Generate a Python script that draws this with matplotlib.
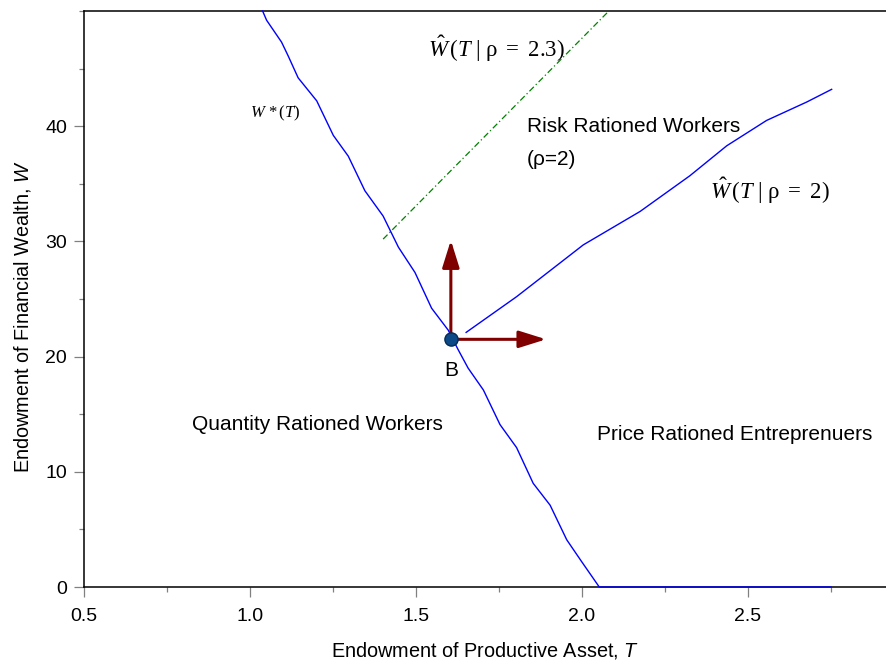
import matplotlib
matplotlib.use("Agg")
import matplotlib.pyplot as plt
from matplotlib.ticker import MultipleLocator, FormatStrFormatter
from matplotlib.patches import FancyArrowPatch

plt.rcParams['font.family'] = ['Liberation Sans', 'DejaVu Sans']
plt.rcParams['mathtext.fontset'] = 'custom'
plt.rcParams['mathtext.rm'] = 'Liberation Serif'
plt.rcParams['mathtext.it'] = 'Liberation Serif:italic'
plt.rcParams['mathtext.sf'] = 'Liberation Sans:italic'

# ---- data ----
wstar_T = [1.038, 1.050, 1.095, 1.115, 1.145, 1.201, 1.251, 1.296, 1.346, 1.401,
           1.447, 1.497, 1.547, 1.597, 1.627, 1.657, 1.703, 1.753, 1.803, 1.853,
           1.904, 1.954, 1.999, 2.052, 2.75]
wstar_W = [50.0, 49.2, 47.3, 46.1, 44.2, 42.2, 39.2, 37.4, 34.4, 32.2,
           29.5, 27.3, 24.2, 22.3, 20.6, 19.0, 17.1, 14.1, 12.1, 9.0,
           7.1, 4.1, 2.2, 0.0, 0.0]

what2_T = [1.651, 1.803, 2.004, 2.175, 2.325, 2.436, 2.556, 2.677, 2.752]
what2_W = [22.1, 25.2, 29.7, 32.6, 35.7, 38.3, 40.5, 42.1, 43.2]

what23_T = [1.401, 2.081]
what23_W = [30.2, 50.0]

point_B = (1.605, 21.5)
arrow_up_tip = (1.605, 30.1)
arrow_right_tip = (1.892, 21.5)

xticks = [0.5, 1.0, 1.5, 2.0, 2.5]
yticks = [0, 10, 20, 30, 40]

fig = plt.figure(figsize=(8.86, 6.69), dpi=100)
ax = fig.add_axes([84/886, 82/669, 802/886, 576/669])
ax.set_xlim(0.5, 2.9157)
ax.set_ylim(0, 50)

ax.plot(wstar_T, wstar_W, color='#0000ff', lw=1.0, clip_on=False, zorder=5)
ax.plot(what2_T, what2_W, color='#0000ff', lw=1.0, zorder=5)
ax.plot(what23_T, what23_W, color='#008000', lw=0.9, dashes=(5, 2.2, 1, 2.2), zorder=4)

for tip in (arrow_up_tip, arrow_right_tip):
    arr = FancyArrowPatch(point_B, tip,
                          arrowstyle='-|>,head_length=1.66,head_width=0.52',
                          mutation_scale=10, color='#800000', lw=2.2,
                          shrinkA=0, shrinkB=0, zorder=6)
    ax.add_patch(arr)

ax.plot([point_B[0]], [point_B[1]], 'o', ms=9.5, mfc='#0b4a86', mec='#052b55',
        mew=1.0, zorder=7)

# spines & ticks
ax.spines['right'].set_visible(False)
for s in ('left', 'bottom', 'top'):
    ax.spines[s].set_linewidth(1.1)
    ax.spines[s].set_color('black')

ax.set_xticks(xticks)
ax.set_yticks(yticks)
ax.xaxis.set_major_formatter(FormatStrFormatter('%.1f'))
ax.xaxis.set_minor_locator(MultipleLocator(0.25))
ax.yaxis.set_minor_locator(MultipleLocator(5))
ax.tick_params(which='both', direction='out', color='#808080', width=0.9,
               labelsize=14, top=False, right=False)
ax.tick_params(which='major', length=7.2)
ax.tick_params(which='minor', length=3.3)
ax.tick_params(axis='x', which='major', pad=8)
ax.tick_params(axis='y', which='major', pad=5)

ax.set_xlabel(r"Endowment of Productive Asset, $\mathsf{T}$", fontsize=14.3)
ax.set_ylabel(r"Endowment of Financial Wealth, $\mathsf{W}$", fontsize=14.3)
ax.xaxis.set_label_coords(0.5, -0.092)
ax.yaxis.set_label_coords(-0.064, 0.47)

# annotations
ax.text(1.833, 39.5, "Risk Rationed Workers", fontsize=15, va='baseline')
ax.text(1.833, 36.6, "(ρ=2)", fontsize=15, va='baseline')
ax.text(0.825, 14.1, "Quantity Rationed Workers", fontsize=15, va='center')
ax.text(2.045, 13.2, "Price Rationed Entreprenuers", fontsize=15, va='center')
ax.text(1.605, 18.8, "B", fontsize=15, ha='center', va='center')
ax.text(1.0, 41.1, r"$W\,*(T)$", fontsize=12, va='center')
ax.text(1.535, 46.0, r"$\hat{W}\,(T\ |\ \mathrm{\rho}\ =\ 2.3)$", fontsize=16.5, va='baseline')
ax.text(2.386, 33.7, r"$\hat{W}\,(T\ |\ \mathrm{\rho}\ =\ 2)$", fontsize=16.5, va='baseline')

fig.savefig("out.png", dpi=100)
